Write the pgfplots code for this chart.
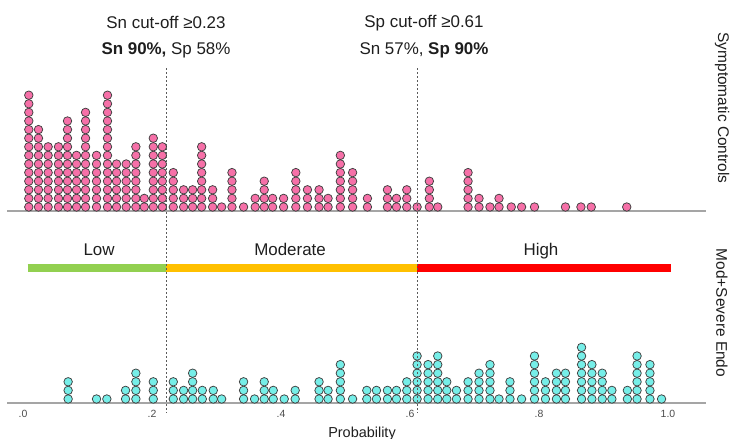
\documentclass[border=0pt]{standalone}
\usepackage{pgfplots}
\pgfplotsset{compat=1.18}
\usepackage{pgfplotstable}
\usepackage{fontspec}
\setmainfont{Liberation Sans}

\definecolor{dotpink}{RGB}{246,112,168}
\definecolor{dotcyan}{RGB}{118,238,232}
\definecolor{dotedge}{RGB}{64,64,64}
\definecolor{axisgray}{RGB}{165,165,165}
\definecolor{cutgray}{RGB}{90,90,90}
\definecolor{lowgreen}{RGB}{146,208,80}
\definecolor{modorange}{RGB}{255,192,0}
\definecolor{highred}{RGB}{255,0,0}
\definecolor{txt}{RGB}{30,30,30}

% probability bin, number of dots in the stack
\pgfplotstableread{
x     n
0.009 14
0.024 10
0.039 8
0.055 8
0.069 11
0.083 7
0.097 12
0.114 7
0.131 14
0.145 6
0.160 6
0.175 8
0.188 2
0.202 9
0.216 8
0.233 5
0.249 3
0.263 3
0.277 8
0.294 3
0.308 1
0.324 5
0.342 1
0.360 2
0.374 4
0.387 2
0.404 2
0.423 5
0.441 3
0.459 3
0.473 2
0.492 7
0.511 5
0.534 2
0.565 3
0.579 2
0.595 3
0.611 1
0.630 4
0.643 1
0.690 5
0.707 2
0.724 1
0.738 2
0.757 1
0.773 1
0.793 1
0.841 1
0.865 1
0.881 1
0.936 1
}\controls

\pgfplotstableread{
x     n
0.070 3
0.114 1
0.130 1
0.159 2
0.175 4
0.202 3
0.233 3
0.249 2
0.263 4
0.278 2
0.295 2
0.308 1
0.342 3
0.359 1
0.374 3
0.388 2
0.405 1
0.422 2
0.459 3
0.473 2
0.492 5
0.511 1
0.533 2
0.548 2
0.565 2
0.579 2
0.595 3
0.611 6
0.628 5
0.643 6
0.657 3
0.672 2
0.690 3
0.707 4
0.724 5
0.738 1
0.755 3
0.773 1
0.793 6
0.810 3
0.827 4
0.841 4
0.866 7
0.882 5
0.898 4
0.913 2
0.937 2
0.952 6
0.972 5
0.990 1
}\endo

\pgfplotsset{
  dotpanel/.style={
    scale only axis, width=699bp,
    xmin=-0.0248, xmax=1.0589, ymin=0.535,
    axis x line=bottom, axis y line=none,
    axis line style={axisgray, line width=1.3bp, -},
    ytick=\empty, major tick length=0pt, clip=false,
    /pgf/number format/assume math mode=true,
  },
  dots/.style={only marks, mark=*, mark size=4.25bp,
    mark options={fill=#1, draw=dotedge, line width=0.75bp}},
}
\tikzset{band/.style={font=\fontsize{17}{20}\selectfont, text=txt, anchor=base}}

\begin{document}
\begin{tikzpicture}
\useasboundingbox (0,0) rectangle (734bp,439bp);

% Symptomatic Controls
\begin{axis}[dotpanel, at={(7bp,228bp)}, anchor=south west,
  ymax=16, height=133bp, xtick=\empty]
\pgfplotsinvokeforeach{1,...,14}{
  \addplot[dots=dotpink] table[x=x, y expr=#1,
    restrict expr to domain={\thisrow{n}}{#1:100}] {\controls};
}
% risk bands
\addplot[lowgreen, line width=8.7bp, line cap=butt] coordinates {(0.0073,-6.09) (0.222,-6.09)};
\addplot[modorange, line width=8.7bp, line cap=butt] coordinates {(0.222,-6.09) (0.611,-6.09)};
\addplot[highred, line width=8.7bp, line cap=butt] coordinates {(0.611,-6.09) (1.0047,-6.09)};
\node[band] at (axis cs:0.118,-4.6) {Low};
\node[band] at (axis cs:0.414,-4.6) {Moderate};
\node[band] at (axis cs:0.803,-4.6) {High};
% cut-off labels
\node[font=\fontsize{17}{20}\selectfont, text=txt] at (axis cs:0.2217,22.4) {Sn cut-off ≥0.23};
\node[font=\fontsize{17}{20}\selectfont, text=txt] at (axis cs:0.2217,19.26) {\textbf{Sn 90\%,} Sp 58\%};
\node[font=\fontsize{17}{20}\selectfont, text=txt] at (axis cs:0.6217,22.4) {Sp cut-off ≥0.61};
\node[font=\fontsize{17}{20}\selectfont, text=txt] at (axis cs:0.6217,19.26) {Sn 57\%, \textbf{Sp 90\%}};
\node[rotate=-90, font=\fontsize{15.5}{18}\selectfont, text=txt] at (axis cs:1.0837,12.5) {Symptomatic Controls};
\coordinate (cutA) at (axis cs:0.222,17.16);
\coordinate (cutB) at (axis cs:0.611,17.16);
\end{axis}

% Mod+Severe Endo
\begin{axis}[dotpanel, at={(7bp,36bp)}, anchor=south west,
  ymax=10, height=81.4bp,
  xtick={0,0.2,0.4,0.6,0.8,1}, xticklabels={.0,.2,.4,.6,.8,1.0},
  xticklabel style={font=\fontsize{10.5}{12}\selectfont, text=black!70, yshift=-4bp}]
\pgfplotsinvokeforeach{1,...,7}{
  \addplot[dots=dotcyan] table[x=x, y expr=#1,
    restrict expr to domain={\thisrow{n}}{#1:100}] {\endo};
}
\node[rotate=-90, font=\fontsize{15.5}{18}\selectfont, text=txt] at (axis cs:1.0837,11.0) {Mod+Severe Endo};
\node[font=\fontsize{14.5}{17}\selectfont, text=txt] at (axis cs:0.5256,-3.0) {Probability};
\end{axis}

\draw[cutgray, line width=0.8bp, dash pattern=on 2bp off 2bp] (cutA) -- ++(0,-345bp);
\draw[cutgray, line width=0.8bp, dash pattern=on 2bp off 2bp] (cutB) -- ++(0,-345bp);
\end{tikzpicture}
\end{document}
